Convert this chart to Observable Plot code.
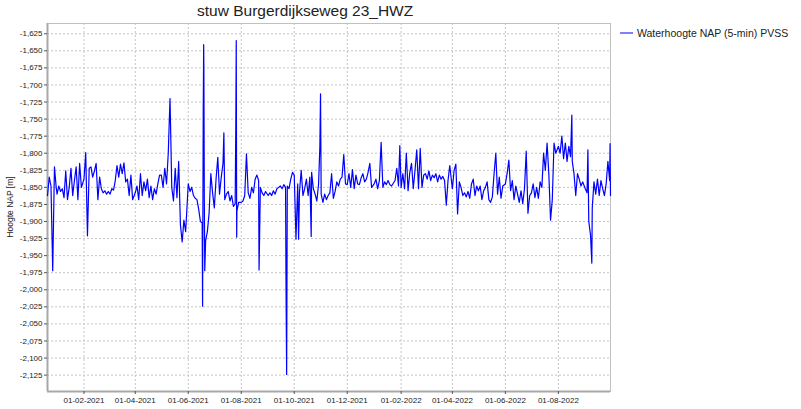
<!DOCTYPE html>
<html><head><meta charset="utf-8">
<script src="https://cdn.jsdelivr.net/npm/d3@7"></script>
<script src="https://cdn.jsdelivr.net/npm/@observablehq/plot@0.6"></script>
<style>
body{margin:0;background:#fff;}
#wrap{position:relative;width:801px;height:409px;font-family:"Liberation Sans",Arial,sans-serif;overflow:hidden;}
#chart{position:absolute;left:0;top:0;}
#title{position:absolute;left:197px;top:0px;font-size:15.5px;color:#222;white-space:nowrap;line-height:22px;}
#ylabel{position:absolute;left:10px;top:207px;transform:translate(-50%,-50%) rotate(-90deg);font-size:8.5px;color:#222;white-space:nowrap;}
#legend{position:absolute;left:620px;top:27px;font-size:10.5px;color:#222;white-space:nowrap;display:flex;align-items:center;}
#legend svg{margin-right:4px;}
</style></head><body>
<div id="wrap">
<div id="chart"></div>
<div id="title">stuw Burgerdijkseweg 23_HWZ</div>
<div id="ylabel">Hoogte NAP [m]</div>
<div id="legend"><svg width="13" height="12"><line x1="0" x2="13" y1="6" y2="6" stroke="#0000ff" stroke-width="1"/></svg><span>Waterhoogte NAP (5-min) PVSS</span></div>
</div>
<script>
// ---- data ----
const xTicks = ["2021-02-01","2021-04-01","2021-06-01","2021-08-01","2021-10-01","2021-12-01","2022-02-01","2022-04-01","2022-06-01","2022-08-01"];
const yTicks = [-1.625,-1.650,-1.675,-1.700,-1.725,-1.750,-1.775,-1.800,-1.825,-1.850,-1.875,-1.900,-1.925,-1.950,-1.975,-2.000,-2.025,-2.050,-2.075,-2.100,-2.125];
const xDomainDates = ["2020-12-21","2022-09-30"];
const yDomainValues = [-2.149,-1.610];

const dec2020Days = [21,23,25,27,29,31];
const oddDays = [1,3,5,7,9,11,13,15,17,19,21,23,25,27,29];
const febDays = [1,3,5,7,9,11,13,15,17,19,21,23,25,27];

const months = ["2020-12","2021-01","2021-02","2021-03","2021-04","2021-05","2021-06","2021-07","2021-08","2021-09","2021-10","2021-11","2021-12","2022-01","2022-02","2022-03","2022-04","2022-05","2022-06","2022-07","2022-08","2022-09"];

const m2020_12 = [-1.862,-1.835,-1.848,-1.972,-1.820,-1.850];
const m2021_01 = [-1.860,-1.848,-1.856,-1.852,-1.865,-1.826,-1.868,-1.850,-1.822,-1.862,-1.840,-1.820,-1.868,-1.815,-1.850];
const m2021_02 = [-1.838,-1.799,-1.921,-1.822,-1.820,-1.835,-1.826,-1.815,-1.868,-1.835,-1.852,-1.858,-1.855,-1.860];
const m2021_03 = [-1.856,-1.860,-1.852,-1.854,-1.840,-1.818,-1.835,-1.816,-1.830,-1.814,-1.842,-1.838,-1.862,-1.832,-1.868];
const m2021_04 = [-1.858,-1.848,-1.868,-1.830,-1.862,-1.842,-1.855,-1.838,-1.865,-1.848,-1.868,-1.852,-1.860,-1.845,-1.832];
const m2021_05 = [-1.832,-1.850,-1.822,-1.845,-1.800,-1.720,-1.850,-1.870,-1.822,-1.865,-1.812,-1.905,-1.930,-1.898,-1.915];
const m2021_06 = [-1.845,-1.856,-1.850,-1.862,-1.866,-1.868,-1.882,-1.900,-1.902,-1.680,-1.928,-1.915,-1.888,-1.830,-1.858];
const m2021_07 = [-1.880,-1.838,-1.806,-1.860,-1.835,-1.815,-1.868,-1.860,-1.856,-1.870,-1.862,-1.878,-1.874,-1.885,-1.872];
const m2021_08 = [-1.872,-1.870,-1.862,-1.801,-1.858,-1.866,-1.850,-1.858,-1.838,-1.832,-1.840,-1.850,-1.858,-1.862,-1.856];
const m2021_09 = [-1.862,-1.858,-1.862,-1.855,-1.860,-1.852,-1.850,-1.848,-1.852,-1.846,-1.850,-1.848,-1.852,-1.838,-1.828];
const m2021_10 = [-1.832,-1.926,-1.845,-1.858,-1.825,-1.862,-1.852,-1.838,-1.862,-1.835,-1.828,-1.852,-1.860,-1.870,-1.845];
const m2021_11 = [-1.860,-1.872,-1.860,-1.868,-1.862,-1.858,-1.830,-1.866,-1.856,-1.842,-1.848,-1.838,-1.835,-1.802,-1.845];
const m2021_12 = [-1.846,-1.830,-1.850,-1.824,-1.852,-1.832,-1.845,-1.846,-1.836,-1.830,-1.842,-1.838,-1.828,-1.815,-1.850];
const m2022_01 = [-1.845,-1.838,-1.852,-1.840,-1.784,-1.850,-1.842,-1.846,-1.840,-1.846,-1.848,-1.844,-1.840,-1.822,-1.848];
const m2022_02 = [-1.850,-1.830,-1.852,-1.800,-1.855,-1.828,-1.815,-1.852,-1.825,-1.795,-1.852,-1.793,-1.850,-1.832];
const m2022_03 = [-1.830,-1.838,-1.826,-1.840,-1.832,-1.836,-1.830,-1.842,-1.832,-1.838,-1.834,-1.840,-1.876,-1.840,-1.818];
const m2022_04 = [-1.852,-1.825,-1.816,-1.889,-1.842,-1.850,-1.862,-1.858,-1.864,-1.856,-1.866,-1.845,-1.838,-1.862,-1.848];
const m2022_05 = [-1.855,-1.848,-1.868,-1.855,-1.850,-1.842,-1.868,-1.872,-1.864,-1.830,-1.800,-1.860,-1.835,-1.866,-1.848];
const m2022_06 = [-1.845,-1.830,-1.810,-1.855,-1.840,-1.868,-1.848,-1.860,-1.872,-1.855,-1.874,-1.852,-1.797,-1.888,-1.862];
const m2022_07 = [-1.858,-1.845,-1.865,-1.850,-1.866,-1.842,-1.850,-1.800,-1.825,-1.785,-1.830,-1.898,-1.868,-1.785,-1.800];
const m2022_08 = [-1.790,-1.800,-1.775,-1.808,-1.785,-1.812,-1.790,-1.805,-1.812,-1.830,-1.862,-1.830,-1.838,-1.848,-1.842];
const m2022_09 = [-1.852,-1.858,-1.900,-1.920,-1.880,-1.842,-1.860,-1.838,-1.862,-1.840,-1.852,-1.862,-1.845,-1.812,-1.840];

const monthLevels = [m2020_12,m2021_01,m2021_02,m2021_03,m2021_04,m2021_05,m2021_06,m2021_07,m2021_08,m2021_09,m2021_10,m2021_11,m2021_12,m2022_01,m2022_02,m2022_03,m2022_04,m2022_05,m2022_06,m2022_07,m2022_08,m2022_09];

// short peaks / dips between the regular readings
const spikeTimes = ["2020-12-26T12:00Z","2021-05-12T00:00Z","2021-06-17T12:00Z","2021-06-18T06:00Z","2021-06-18T18:00Z","2021-06-19T12:00Z","2021-06-20T00:00Z","2021-07-12T00:00Z","2021-07-25T18:00Z","2021-07-26T06:00Z","2021-07-26T18:00Z","2021-08-21T12:00Z","2021-09-21T12:00Z","2021-09-22T06:00Z","2021-10-06T00:00Z","2021-10-20T12:00Z","2021-10-30T12:00Z","2021-10-31T06:00Z","2022-01-30T12:00Z","2022-08-16T12:00Z","2022-09-04T00:00Z","2022-09-08T12:00Z","2022-09-29T12:00Z","2022-09-30T00:00Z"];
const spikeLevels = [-1.940,-1.782,-2.024,-1.736,-1.641,-1.870,-1.972,-1.770,-1.758,-1.635,-1.923,-1.971,-1.988,-2.124,-1.926,-1.922,-1.790,-1.713,-1.789,-1.744,-1.795,-1.961,-1.786,-1.862];

// ---- table ----
const rows = [];
months.forEach((m, i) => {
  const days = i === 0 ? dec2020Days : (m.endsWith("-02") ? febDays : oddDays);
  const vals = monthLevels[i];
  days.forEach((d, j) => {
    if (vals[j] !== undefined) rows.push({date: new Date(`${m}-${String(d).padStart(2,"0")}T00:00Z`), level: vals[j]});
  });
});
spikeTimes.forEach((t, i) => rows.push({date: new Date(t), level: spikeLevels[i]}));
rows.sort((a, b) => a.date - b.date);

const xDomain = xDomainDates.map(s => new Date(s + "T00:00Z"));
const xTickDates = xTicks.map(s => new Date(s + "T00:00Z"));
const fmtDate = d3.utcFormat("%d-%m-%Y");

const chart = Plot.plot({
  width: 801, height: 409,
  marginLeft: 47, marginRight: 191, marginTop: 23, marginBottom: 18,
  style: {fontFamily: "'Liberation Sans', Arial, sans-serif", fontSize: "8px", color: "#222", background: "#fff"},
  x: {type: "utc", domain: xDomain},
  y: {domain: yDomainValues},
  marks: [
    Plot.gridX({ticks: xTickDates, stroke: "#c4c4c4", strokeOpacity: 1, strokeDasharray: "2,2"}),
    Plot.gridY({ticks: yTicks, stroke: "#c4c4c4", strokeOpacity: 1, strokeDasharray: "2,2"}),
    Plot.frame({stroke: "#c0c0c0"}),
    Plot.ruleX([xDomain[0]], {stroke: "#a8a8a8", strokeWidth: 2}),
    Plot.ruleY([yDomainValues[0]], {stroke: "#a8a8a8", strokeWidth: 2}),
    Plot.axisX({ticks: xTickDates, tickFormat: fmtDate, tickSize: 3, tickPadding: 3, label: null, stroke: "#555"}),
    Plot.axisY({ticks: yTicks, tickFormat: d => d.toFixed(3).replace(".", ","), tickSize: 3, tickPadding: 2, label: null, stroke: "#555"}),
    Plot.line(rows, {x: "date", y: "level", stroke: "#0000ff", strokeWidth: 1.2})
  ]
});
document.getElementById("chart").appendChild(chart);
</script>
</body></html>
